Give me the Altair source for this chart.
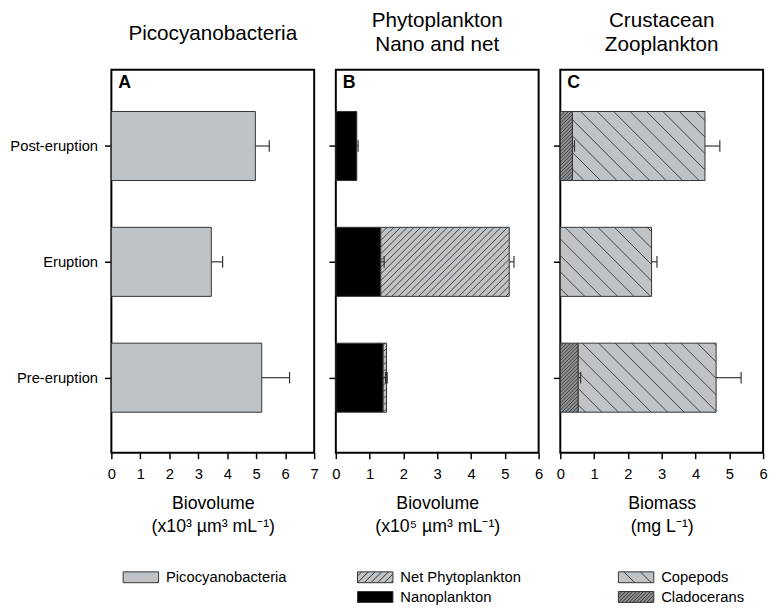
import math
import json
import altair as alt
import pandas as pd

# ---------------- data ----------------
periods = ["Pre-eruption", "Eruption", "Post-eruption"]

pico = [5.19, 3.45, 4.97]
pico_se = [0.96, 0.39, 0.48]

nano = [1.40, 1.33, 0.62]
nano_se = [0.07, 0.10, 0.04]
net = [0.10, 3.80, 0.0]
net_se = [0.02, 0.14, 0.0]

clado = [0.53, 0.0, 0.36]
clado_se = [0.07, 0.0, 0.06]
cope = [4.08, 2.70, 3.92]
cope_se = [0.74, 0.16, 0.44]

panel_titles = [["Picocyanobacteria"], ["Phytoplankton", "Nano and net"], ["Crustacean", "Zooplankton"]]
panel_letters = ["A", "B", "C"]
axis_titles = [["Biovolume", "(x10\u00b3 \u00b5m\u00b3 mL\u207b\u00b9)"],
               ["Biovolume", "(x10\u2075 \u00b5m\u00b3 mL\u207b\u00b9)"],
               ["Biomass", "(mg L\u207b\u00b9)"]]
x_max = [7, 6, 6]

# ---------------- style ----------------
FONT = "Liberation Sans"
W, H = 206, 389
YMIN, YMAX = -0.648, 2.658
HALF = 0.298
CAP = 0.05
LIGHT = "#bfc3c6"
DARK = "#8d9194"
EDGE = "#333333"


def segments(series):
    rows, errs = [], []
    for i, p in enumerate(periods):
        start = 0.0
        for name, vals, ses in series:
            v = vals[i]
            if v > 0:
                rows.append(dict(period=p, series=name, x0=start, x1=start + v,
                                 y0=i - HALF, y1=i + HALF))
                if ses[i] > 0:
                    errs.append(dict(x1=start + v, err=start + v + ses[i], yc=i,
                                     c0=i - CAP, c1=i + CAP))
            start += v
    return pd.DataFrame(rows), pd.DataFrame(errs)


def clip_lines(X0, X1, Y0, Y1, direction, spacing):
    """hatch segments inside a rectangle, in pixel units with Y pointing up"""
    out = []
    if direction == "/":
        cmin, cmax = X0 - Y1, X1 - Y0
    else:
        cmin, cmax = X0 + Y0, X1 + Y1
    c = math.ceil(cmin / spacing) * spacing
    while c < cmax:
        if direction == "/":
            lo, hi = max(X0, Y0 + c), min(X1, Y1 + c)
            if hi - lo > 0.4:
                out.append((lo, lo - c, hi, hi - c))
        else:
            lo, hi = max(X0, c - Y1), min(X1, c - Y0)
            if hi - lo > 0.4:
                out.append((lo, c - lo, hi, c - hi))
        c += spacing
    return out


def hatch(df, patterns, xm):
    kx = W / xm
    ky = H / (YMAX - YMIN)
    rows = []
    for r in df.itertuples():
        if r.series not in patterns:
            continue
        d, s = patterns[r.series]
        for (a, b, c, e) in clip_lines(r.x0 * kx, r.x1 * kx, (r.y0 - YMIN) * ky,
                                       (r.y1 - YMIN) * ky, d, s):
            rows.append(dict(hx0=a / kx, hy0=b / ky + YMIN, hx1=c / kx, hy1=e / ky + YMIN))
    return pd.DataFrame(rows, columns=["hx0", "hy0", "hx1", "hy1"])


def swatch(direction=None, spacing=None):
    # symbol path: scale = sqrt(size)/2 = 5 px per unit; swatch 36 x 11 px
    sw, sh, k = 36.0, 11.0, 5.0
    f = lambda v: f"{v:.2f}".rstrip("0").rstrip(".")
    p = f"M{f(-sw/2/k)},{f(-sh/2/k)}L{f(sw/2/k)},{f(-sh/2/k)}L{f(sw/2/k)},{f(sh/2/k)}L{f(-sw/2/k)},{f(sh/2/k)}Z"
    if direction:
        for (a, b, c, e) in clip_lines(0, sw, 0, sh, direction, spacing):
            p += f"M{f((a - sw/2)/k)},{f(-(b - sh/2)/k)}L{f((c - sw/2)/k)},{f(-(e - sh/2)/k)}"
    return p


def panel(k, series, legend_order, colors, patterns, legend_x, show_labels):
    xm = x_max[k]
    bars, errs = segments(series)
    hat = hatch(bars, patterns, xm)

    xs = alt.Scale(domain=[0, xm], nice=False, zero=False)
    ys = alt.Scale(domain=[YMIN, YMAX], nice=False, zero=False)
    xaxis = alt.Axis(values=list(range(xm + 1)), title=axis_titles[k], grid=False, domain=False,
                     tickSize=6, tickWidth=1.5, tickColor="black", labelFontSize=15, labelFont=FONT,
                     labelColor="black", labelPadding=8, labelFlush=False, titleFont=FONT,
                     titleFontSize=18, titleFontWeight="normal", titleColor="black",
                     titleLineHeight=23, titlePadding=14)
    label_expr = json.dumps(periods) + "[datum.value]"
    yaxis = alt.Axis(values=[0, 1, 2], title=None, grid=False, domain=False, tickSize=7,
                     tickWidth=1.5, tickColor="black", labels=show_labels, labelExpr=label_expr,
                     labelFontSize=15, labelFont=FONT, labelColor="black", labelPadding=7)

    X = lambda f: alt.X(f, type="quantitative", scale=xs, axis=xaxis)
    Y = lambda f: alt.Y(f, type="quantitative", scale=ys, axis=yaxis)

    first = legend_order[0]
    default_path = swatch(*patterns[first]) if first in patterns else swatch()
    expr = f"'{default_path}'"
    for n in legend_order:
        pth = swatch(*patterns[n]) if n in patterns else swatch()
        expr = f"datum.value === '{n}' ? '{pth}' : " + expr

    legend = alt.Legend(orient="none", legendX=legend_x, legendY=508, title=None,
                        direction="vertical", symbolType={"expr": expr}, symbolSize=100,
                        symbolStrokeWidth=1, symbolStrokeColor=EDGE, symbolOffset=10.5,
                        symbolOpacity=1,
                        labelOffset=18, labelFontSize=15, labelFont=FONT, labelColor="black",
                        rowPadding=4, padding=0, labelLimit=300)

    rect = alt.Chart(bars).mark_rect(stroke=EDGE, strokeWidth=1).encode(
        x=X("x0"), x2="x1", y=Y("y0"), y2="y1",
        color=alt.Color("series:N", scale=alt.Scale(domain=legend_order, range=colors),
                        legend=legend),
    )
    layers = [rect]
    if len(hat):
        layers.append(alt.Chart(hat).mark_rule(color=EDGE, strokeWidth=0.9).encode(
            x=X("hx0"), x2="hx1", y=Y("hy0"), y2="hy1"))
    layers.append(alt.Chart(errs).mark_rule(color=EDGE, strokeWidth=1.2).encode(
        x=X("x1"), x2="err", y=Y("yc")))
    layers.append(alt.Chart(errs).mark_rule(color=EDGE, strokeWidth=1.2).encode(
        x=X("err"), y=Y("c0"), y2="c1"))
    layers.append(alt.Chart(pd.DataFrame({"t": [panel_letters[k]]})).mark_text(
        align="left", baseline="middle", fontSize=18, fontWeight="bold", font=FONT,
        color="black").encode(x=alt.value(7), y=alt.value(14), text="t:N"))

    offs = 26 if len(panel_titles[k]) == 1 else 15
    return alt.layer(*layers).properties(
        width=W, height=H,
        title=alt.TitleParams(text=panel_titles[k], fontSize=21, font=FONT, fontWeight="normal",
                              color="black", anchor="middle", offset=offs, lineHeight=24),
    )


pA = panel(0, [("Picocyanobacteria", pico, pico_se)], ["Picocyanobacteria"], [LIGHT], {}, 12, True)
pB = panel(1, [("Nanoplankton", nano, nano_se), ("Net Phytoplankton", net, net_se)],
           ["Net Phytoplankton", "Nanoplankton"], [LIGHT, "#000000"],
           {"Net Phytoplankton": ("/", 6.8)}, 22, False)
pC = panel(2, [("Cladocerans", clado, clado_se), ("Copepods", cope, cope_se)],
           ["Copepods", "Cladocerans"], [LIGHT, DARK],
           {"Copepods": ("\\", 16.7), "Cladocerans": ("/", 3.6)}, 59, False)

chart = alt.hconcat(pA, pB, pC, spacing=22, bounds="flush").resolve_scale(
    color="independent", x="independent", y="independent"
).resolve_legend(color="independent").properties(
    padding={"top": -3, "left": 0, "right": 0, "bottom": 0}
).configure_view(
    stroke="black", strokeWidth=2
)

chart.save("out.html", embed_options={"renderer": "svg", "actions": False})
